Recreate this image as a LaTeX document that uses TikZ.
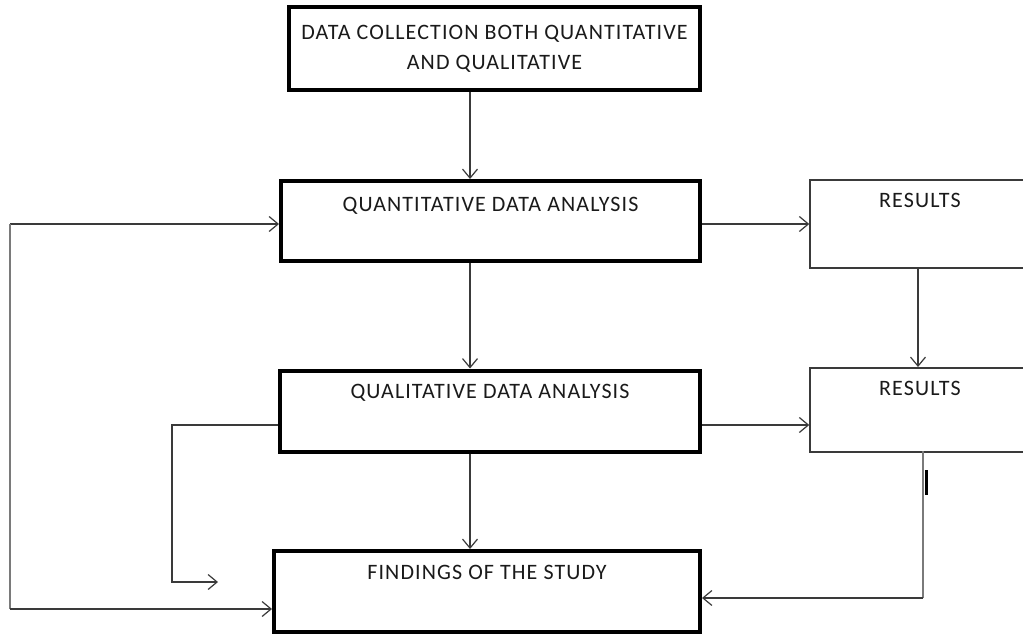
\documentclass[tikz,border=0pt]{standalone}
\usepackage{fontspec}
\setmainfont[LetterSpace=5]{Carlito}
\usetikzlibrary{arrows.meta}
\definecolor{txt}{HTML}{1A1A1A}
\definecolor{conn}{HTML}{3A3A3A}
\definecolor{lightconn}{HTML}{7A7A7A}
\begin{document}
\begin{tikzpicture}[x=1pt,y=-1pt,
  boxfont/.style={font=\fontsize{22}{30}\selectfont, text=txt},
  mainbox/.style={draw=black, line width=4pt, rectangle, inner xsep=0pt, inner ysep=0pt, boxfont},
  resbox/.style={draw=conn, line width=1.5pt, rectangle, inner xsep=0pt, inner ysep=0pt, boxfont},
  conline/.style={draw=conn, line width=1.2pt},
  grayline/.style={draw=lightconn, line width=1.8pt},
  >={Straight Barb[length=9pt,width=15pt,line width=1.2pt]}]
\clip (0,0) rectangle (1023,634);
\fill[white] (0,0) rectangle (1023,634);

\node[mainbox, minimum width=411pt, minimum height=83pt, align=center] (top) at (494.5,48.5)
  {DATA COLLECTION BOTH QUANTITATIVE\\AND QUALITATIVE};
\node[mainbox, minimum width=419pt, text height=30pt, text depth=50pt, anchor=north] (quant) at (490.5,179)
  {QUANTITATIVE DATA ANALYSIS};
\node[mainbox, minimum width=419.5pt, text height=27.5pt, text depth=53.5pt, anchor=north] (qual) at (490,368.5)
  {QUALITATIVE DATA ANALYSIS};
\node[mainbox, minimum width=426pt, text height=28pt, text depth=52.5pt, anchor=north] (find) at (487,549)
  {FINDINGS OF THE STUDY};
\node[resbox, minimum width=220pt, text height=28pt, text depth=60pt, anchor=north] (res1) at (920,179)
  {RESULTS};
\node[resbox, minimum width=220pt, text height=28pt, text depth=56pt, anchor=north] (res2) at (920,367)
  {RESULTS};

\coordinate (ax) at (470,0);
\coordinate (ry1) at (0,224);
\coordinate (ry2) at (0,425);
\coordinate (rx1) at (918,0);
\coordinate (R1) at (923,451);
\coordinate (R2) at (923,598);
\coordinate (L1) at (10,224);
\coordinate (L2) at (10,609);
\coordinate (M1) at (172,425);
\coordinate (M2) at (172,582);
\coordinate (M3) at (218,582);
\coordinate (T1) at (926,470);
\coordinate (T2) at (926,495);

\draw[conline,->] (top.south -| ax) -- (quant.north -| ax);
\draw[conline,->] (quant.south -| ax) -- (qual.north -| ax);
\draw[conline,->] (qual.south -| ax) -- (find.north -| ax);
\draw[conline,->] (quant.east |- ry1) -- (res1.west |- ry1);
\draw[conline,->] (qual.east |- ry2) -- (res2.west |- ry2);
\draw[conline,->] (res1.south -| rx1) -- (res2.north -| rx1);
\draw[grayline] (R1) -- (R2);
\draw[conline,->] (R2) -- (find.east |- R2);
\draw[conline,->] (L1) -- (quant.west |- L1);
\draw[grayline] (L1) -- (L2);
\draw[conline,->] (L2) -- (find.west |- L2);
\draw[conline,->] (qual.west |- M1) -- (M1) -- (M2) -- (M3);
\draw[line width=3pt, black] (T1) -- (T2);
\end{tikzpicture}
\end{document}
